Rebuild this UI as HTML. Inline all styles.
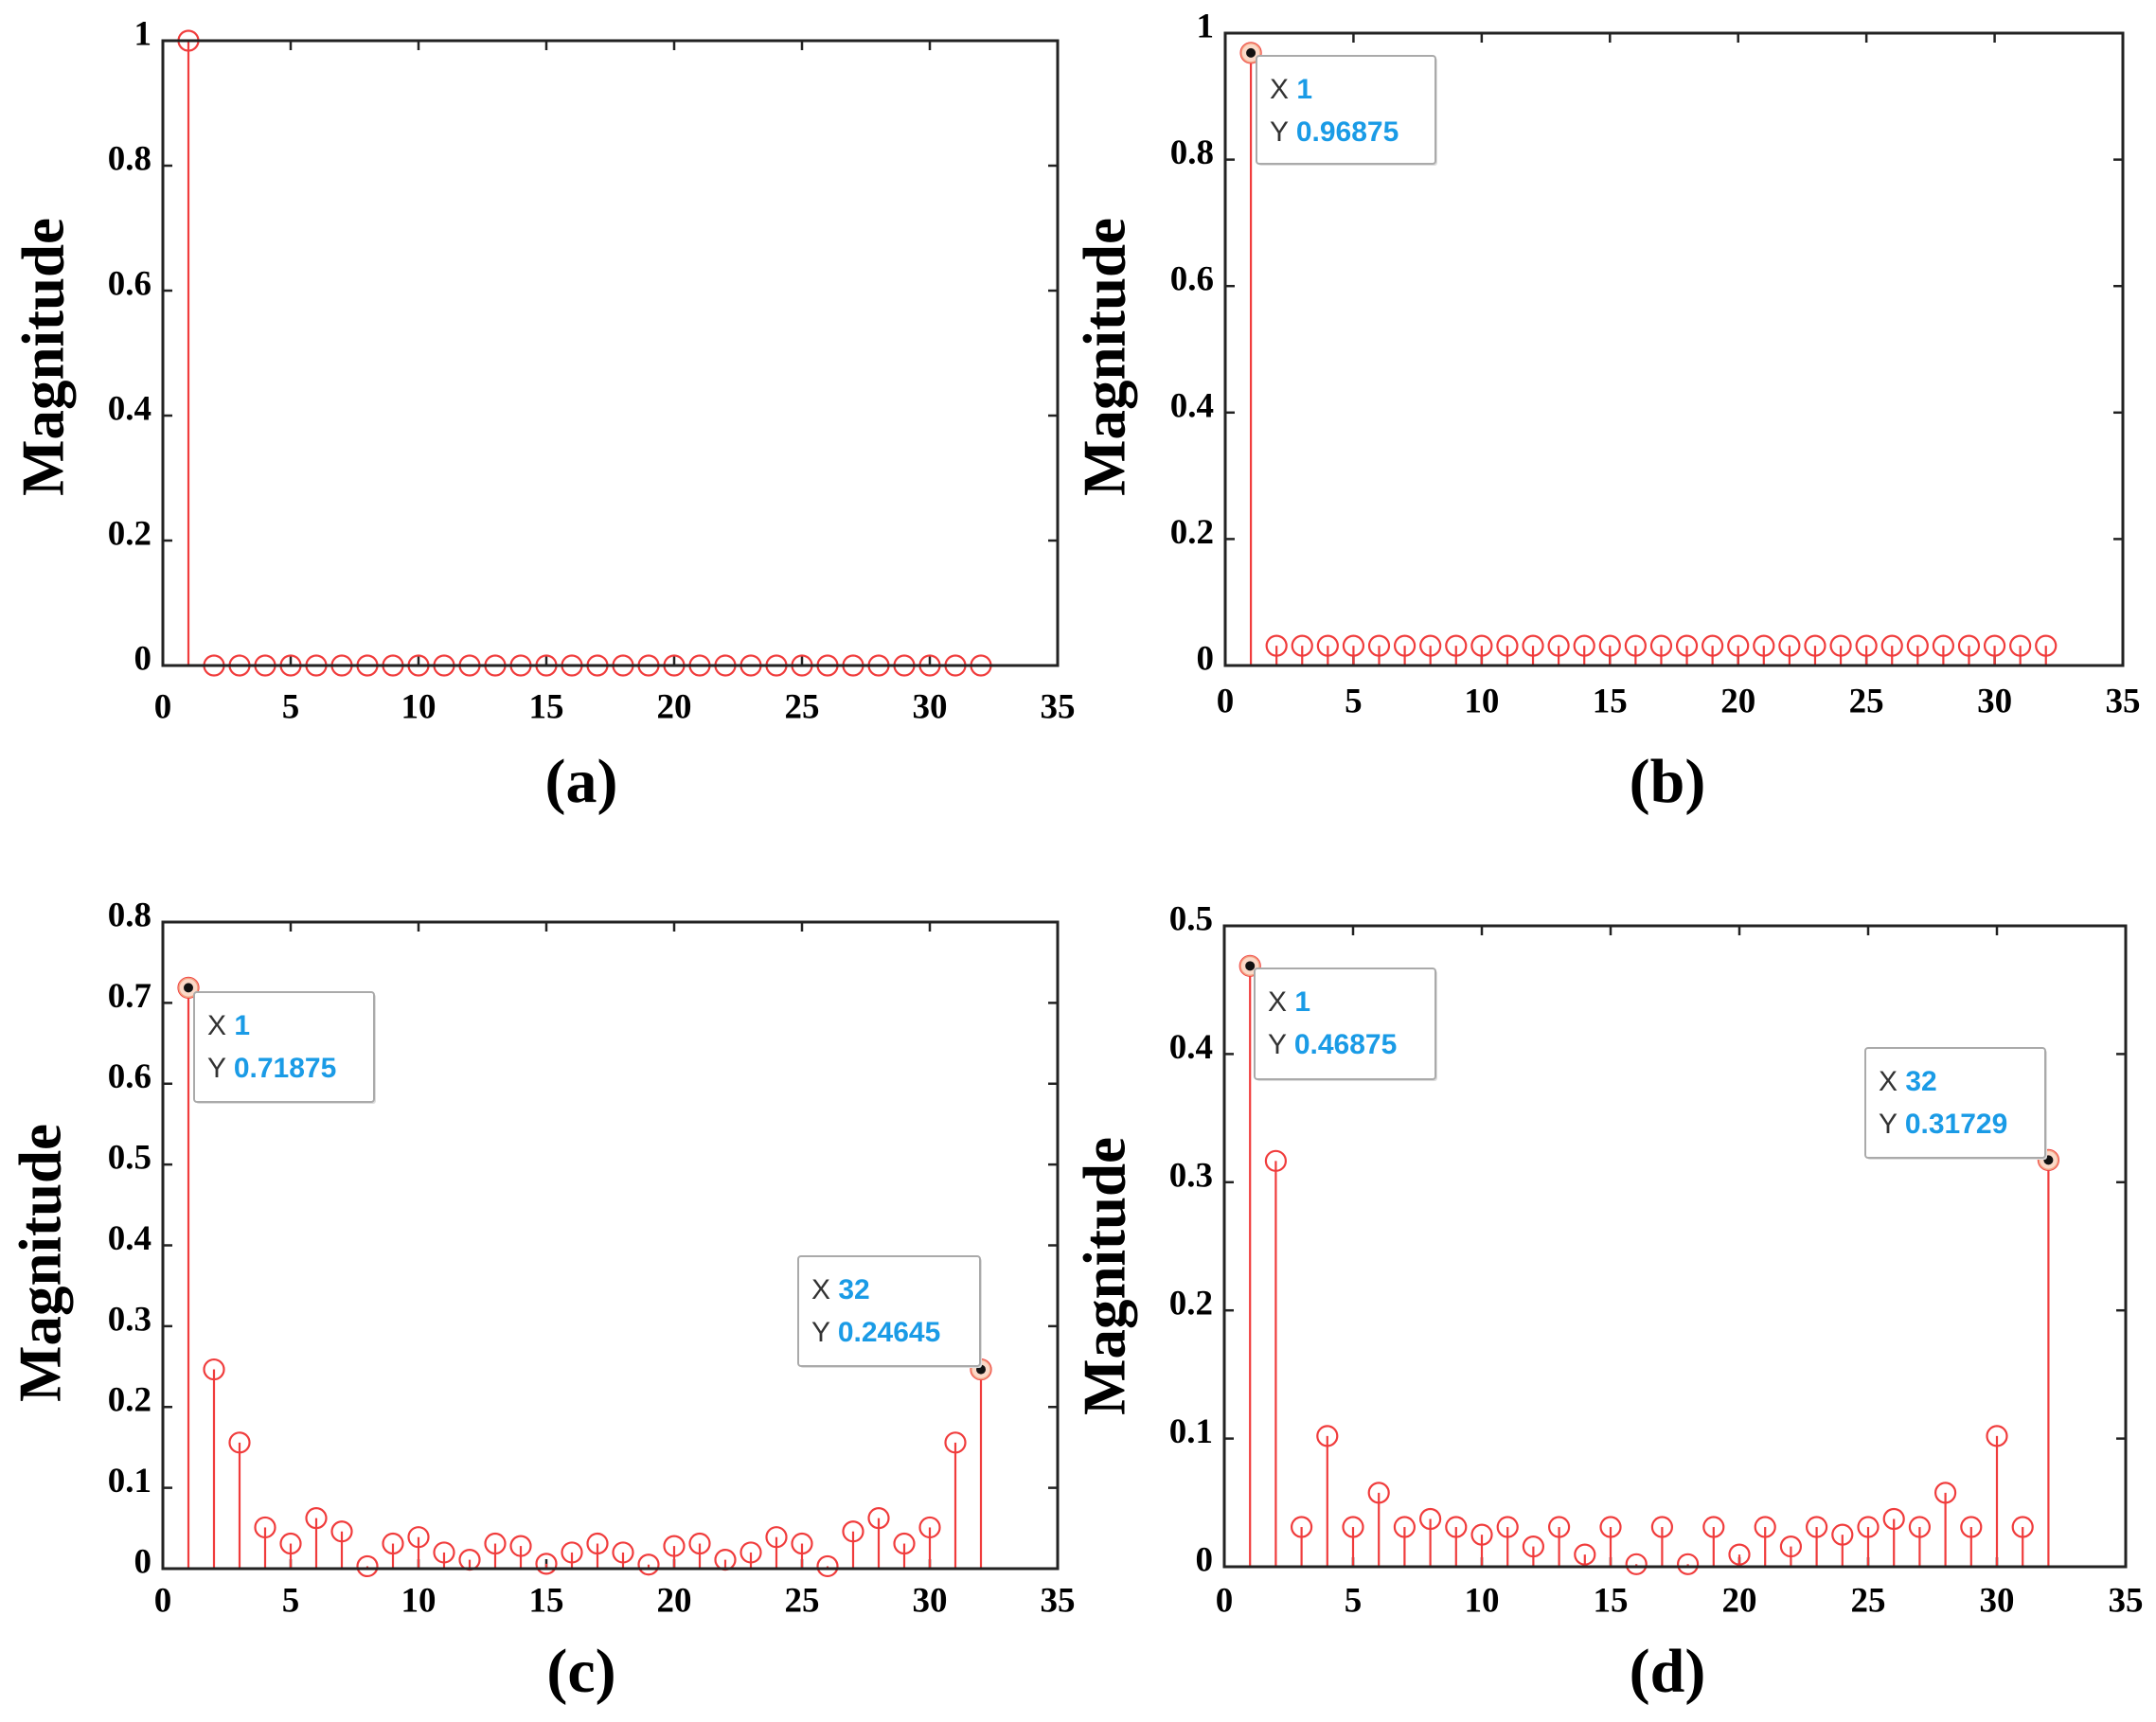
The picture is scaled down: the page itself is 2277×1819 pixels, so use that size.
<!DOCTYPE html>
<html><head><meta charset="utf-8"><style>
html,body{margin:0;padding:0;background:#fff;}
svg{display:block;}
.tk{font-family:"Liberation Serif",serif;font-weight:bold;font-size:37px;fill:#000;}
.ttl{font-family:"Liberation Serif",serif;font-weight:bold;font-size:63px;fill:#000;}
.sub{font-family:"Liberation Serif",serif;font-weight:bold;font-size:66px;fill:#000;}
.tipk{font-family:"Liberation Sans",sans-serif;font-size:30px;fill:#333;}
.tipv{font-family:"Liberation Sans",sans-serif;font-size:30px;font-weight:bold;fill:#1a9be6;}
</style></head><body>
<svg id="fig" width="2277" height="1819" viewBox="0 0 2277 1819" xmlns="http://www.w3.org/2000/svg"></svg>
<script>
const xTicks = [0,5,10,15,20,25,30,35];
const idx = Array.from({length:32},(_,i)=>i+1);
const valsA = [1,0,0,0,0,0,0,0,0,0,0,0,0,0,0,0,0,0,0,0,0,0,0,0,0,0,0,0,0,0,0,0];
const valsB = [0.96875,0.03125,0.03125,0.03125,0.03125,0.03125,0.03125,0.03125,0.03125,0.03125,0.03125,0.03125,0.03125,0.03125,0.03125,0.03125,0.03125,0.03125,0.03125,0.03125,0.03125,0.03125,0.03125,0.03125,0.03125,0.03125,0.03125,0.03125,0.03125,0.03125,0.03125,0.03125];
const valsC = [0.71875,0.2465,0.156,0.051,0.031,0.0625,0.046,0.003,0.031,0.039,0.02,0.011,0.031,0.028,0.006,0.02,0.031,0.02,0.005,0.028,0.031,0.011,0.02,0.039,0.031,0.003,0.046,0.0625,0.031,0.051,0.156,0.24645];
const valsD = [0.46875,0.3166,0.031,0.102,0.031,0.0577,0.031,0.0373,0.031,0.025,0.031,0.0158,0.031,0.0095,0.031,0.002,0.031,0.002,0.031,0.0095,0.031,0.0158,0.031,0.025,0.031,0.0373,0.031,0.0577,0.031,0.102,0.031,0.31729];
const yTicksA = [0,0.2,0.4,0.6,0.8,1];
const yTicksC = [0,0.1,0.2,0.3,0.4,0.5,0.6,0.7,0.8];
const yTicksD = [0,0.1,0.2,0.3,0.4,0.5];

const NS="http://www.w3.org/2000/svg";
const svg=document.getElementById('fig');
function mk(tag,attrs,parent,text){const e=document.createElementNS(NS,tag);for(const k in attrs)e.setAttribute(k,attrs[k]);if(text!==undefined)e.textContent=text;(parent||svg).appendChild(e);return e;}

const panels=[
 {id:'a',L:172,R:1117,T:43,B:703,ymax:1,yt:yTicksA,vals:valsA,xly:750,tips:[],mx:52,my:377,sx:614,sy:847,hl:[]},
 {id:'b',L:1294,R:2242,T:35,B:703,ymax:1,yt:yTicksA,vals:valsB,xly:744,tips:[{x:1327,y:59,w:189,h:114,xv:'1',yv:'0.96875'}],mx:1173,my:377,sx:1761,sy:847,hl:[0]},
 {id:'c',L:172,R:1117,T:974,B:1657,ymax:0.8,yt:yTicksC,vals:valsC,xly:1694,tips:[{x:205,y:1048,w:190,h:116,xv:'1',yv:'0.71875'},{x:843,y:1327,w:192,h:116,xv:'32',yv:'0.24645'}],mx:49,my:1334,sx:614,sy:1787,hl:[0,31]},
 {id:'d',L:1293,R:2245,T:978,B:1655,ymax:0.5,yt:yTicksD,vals:valsD,xly:1694,tips:[{x:1325,y:1023,w:191,h:117,xv:'1',yv:'0.46875'},{x:1970,y:1107,w:190,h:116,xv:'32',yv:'0.31729'}],mx:1173,my:1348,sx:1761,sy:1787,hl:[0,31]}
];

panels.forEach(p=>{
 const g=mk('g',{});
 
 
 const xs=v=>p.L+(p.R-p.L)*v/35;
 const ys=v=>p.B-(p.B-p.T)*v/p.ymax;
 xTicks.forEach(t=>{
  const x=xs(t);
  mk('line',{x1:x,y1:p.B,x2:x,y2:p.B-10,stroke:'#222','stroke-width':2.5},g);
  mk('line',{x1:x,y1:p.T,x2:x,y2:p.T+10,stroke:'#222','stroke-width':2.5},g);
  const tl=mk('text',{x:x,y:p.xly,'text-anchor':'middle','dominant-baseline':'middle',class:'tk'},g,String(t));
  
  
 });
 p.yt.forEach(t=>{
  const y=ys(t);
  mk('line',{x1:p.L,y1:y,x2:p.L+10,y2:y,stroke:'#222','stroke-width':2.5},g);
  mk('line',{x1:p.R,y1:y,x2:p.R-10,y2:y,stroke:'#222','stroke-width':2.5},g);
  const tl=mk('text',{x:p.L-12,y:y-4,'text-anchor':'end','dominant-baseline':'middle',class:'tk'},g,String(t));
  
  
 });
 p.vals.forEach((v,i)=>{
  const x=xs(idx[i]),y=ys(v);
  const st=mk('line',{x1:x,y1:p.B,x2:x,y2:y,stroke:'#f03c3c','stroke-width':2.2},g);
  
  
  const c=mk('circle',{cx:x,cy:y,r:10.5,fill:'none',stroke:'#f03c3c','stroke-width':2.2},g);
  
  
 });
 p.hl.forEach(i=>{
  const x=xs(idx[i]),y=ys(p.vals[i]);
  mk('circle',{cx:x,cy:y,r:10,fill:'#fbd9c8',stroke:'#f2a080','stroke-width':1.5},g);
  mk('circle',{cx:x,cy:y,r:5,fill:'#111'},g);
 });
 const fr=mk('rect',{x:p.L,y:p.T,width:p.R-p.L,height:p.B-p.T,fill:'none',stroke:'#222','stroke-width':3},g);
 
 
 p.tips.forEach(t=>{
  const tg=mk('g',{},g);
  
  
  mk('rect',{x:t.x+2,y:t.y+2,width:t.w,height:t.h,rx:3,fill:'#ddd'},tg);
  mk('rect',{x:t.x,y:t.y,width:t.w,height:t.h,rx:3,fill:'#fff',stroke:'#aaa','stroke-width':2},tg);
  const k1=mk('text',{x:t.x+14,y:t.y+37,'dominant-baseline':'middle',class:'tipk'},tg,'X ');
  mk('tspan',{class:'tipv'},k1,t.xv);
  const k2=mk('text',{x:t.x+14,y:t.y+82,'dominant-baseline':'middle',class:'tipk'},tg,'Y ');
  mk('tspan',{class:'tipv'},k2,t.yv);
 });
 const yl=mk('text',{x:p.mx,y:p.my,'text-anchor':'middle','dominant-baseline':'middle',class:'ttl',transform:`rotate(-90 ${p.mx} ${p.my})`},g,'Magnitude');
 
 
 const sl=mk('text',{x:p.sx,y:p.sy,'text-anchor':'middle',class:'sub'},g,'('+p.id+')');
 
 
});
</script>
</body></html>
